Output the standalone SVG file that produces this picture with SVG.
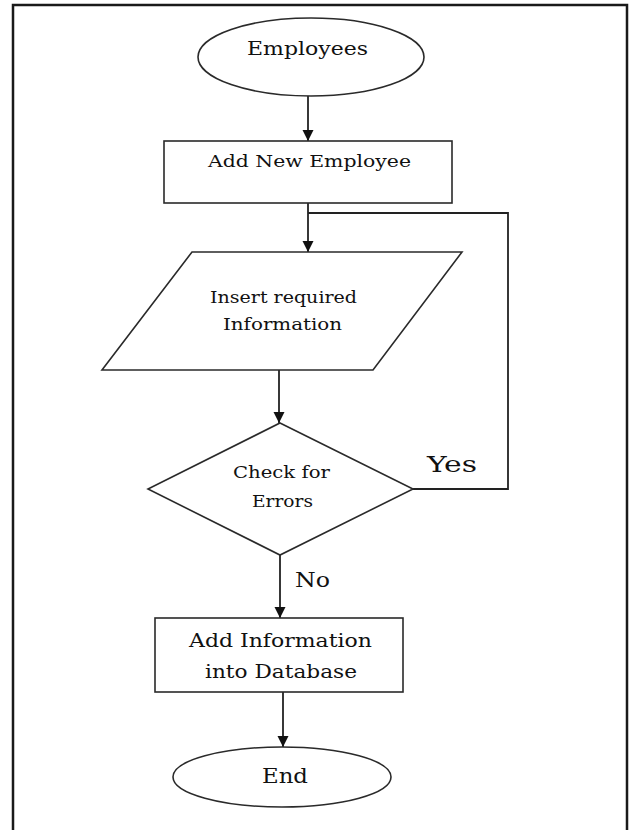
<svg xmlns="http://www.w3.org/2000/svg" width="631" height="830" viewBox="0 0 631 830">
  <style>
    .shape { fill: #ffffff; stroke: #2a2a2a; stroke-width: 1.6; }
    .conn { fill: none; stroke: #222222; stroke-width: 1.8; }
    .label { font-family: "DejaVu Serif", "Liberation Serif", serif; fill: #111111; text-anchor: start; }
  </style>
  <defs>
    <marker id="arrow" markerUnits="userSpaceOnUse" markerWidth="12" markerHeight="13" refX="11" refY="5.5" orient="auto">
      <path d="M0,0 L11,5.5 L0,11 Z" fill="#111111"/>
    </marker>
  </defs>

  <rect x="0" y="0" width="631" height="830" fill="#ffffff"/>
  <!-- page frame (open at the bottom) -->
  <path d="M13,830 V5 H627 V830" fill="none" stroke="#1a1a1a" stroke-width="2.5"/>

  <g id="connectors">
    <line class="conn" x1="308" y1="96" x2="308" y2="141" marker-end="url(#arrow)"/>
    <line class="conn" x1="308" y1="203" x2="308" y2="252" marker-end="url(#arrow)"/>
    <polyline class="conn" points="308,213 508,213 508,489 413,489"/>
    <line class="conn" x1="279" y1="370" x2="279" y2="423" marker-end="url(#arrow)"/>
    <line class="conn" x1="280" y1="555" x2="280" y2="618" marker-end="url(#arrow)"/>
    <line class="conn" x1="283" y1="692" x2="283" y2="747" marker-end="url(#arrow)"/>
    <text class="label" x="427" y="472" font-size="23" textLength="50" lengthAdjust="spacingAndGlyphs">Yes</text>
    <text class="label" x="295" y="587" font-size="21" textLength="35" lengthAdjust="spacingAndGlyphs">No</text>
  </g>

  <g id="employees">
    <ellipse class="shape" cx="311" cy="57" rx="113" ry="39"/>
    <text class="label" x="247" y="55" font-size="18" textLength="121" lengthAdjust="spacingAndGlyphs">Employees</text>
  </g>

  <g id="add-new-employee">
    <rect class="shape" x="164" y="141" width="288" height="62"/>
    <text class="label" x="208" y="167" font-size="16" textLength="203" lengthAdjust="spacingAndGlyphs">Add New Employee</text>
  </g>

  <g id="insert-information">
    <polygon class="shape" points="192,252 462,252 373,370 102,370"/>
    <text class="label" x="210" y="303" font-size="16" textLength="147" lengthAdjust="spacingAndGlyphs">Insert required</text>
    <text class="label" x="223" y="330" font-size="16" textLength="119" lengthAdjust="spacingAndGlyphs">Information</text>
  </g>

  <g id="check-errors">
    <polygon class="shape" points="280,423 413,489 280,555 148,489"/>
    <text class="label" x="233" y="478" font-size="17" textLength="97" lengthAdjust="spacingAndGlyphs">Check for</text>
    <text class="label" x="252" y="507" font-size="17" textLength="61" lengthAdjust="spacingAndGlyphs">Errors</text>
  </g>

  <g id="add-to-database">
    <rect class="shape" x="155" y="618" width="248" height="74"/>
    <text class="label" x="189" y="647" font-size="19" textLength="183" lengthAdjust="spacingAndGlyphs">Add Information</text>
    <text class="label" x="205" y="678" font-size="19" textLength="152" lengthAdjust="spacingAndGlyphs">into Database</text>
  </g>

  <g id="end">
    <ellipse class="shape" cx="282" cy="777" rx="109" ry="30"/>
    <text class="label" x="262" y="783" font-size="20" textLength="46" lengthAdjust="spacingAndGlyphs">End</text>
  </g>
</svg>
